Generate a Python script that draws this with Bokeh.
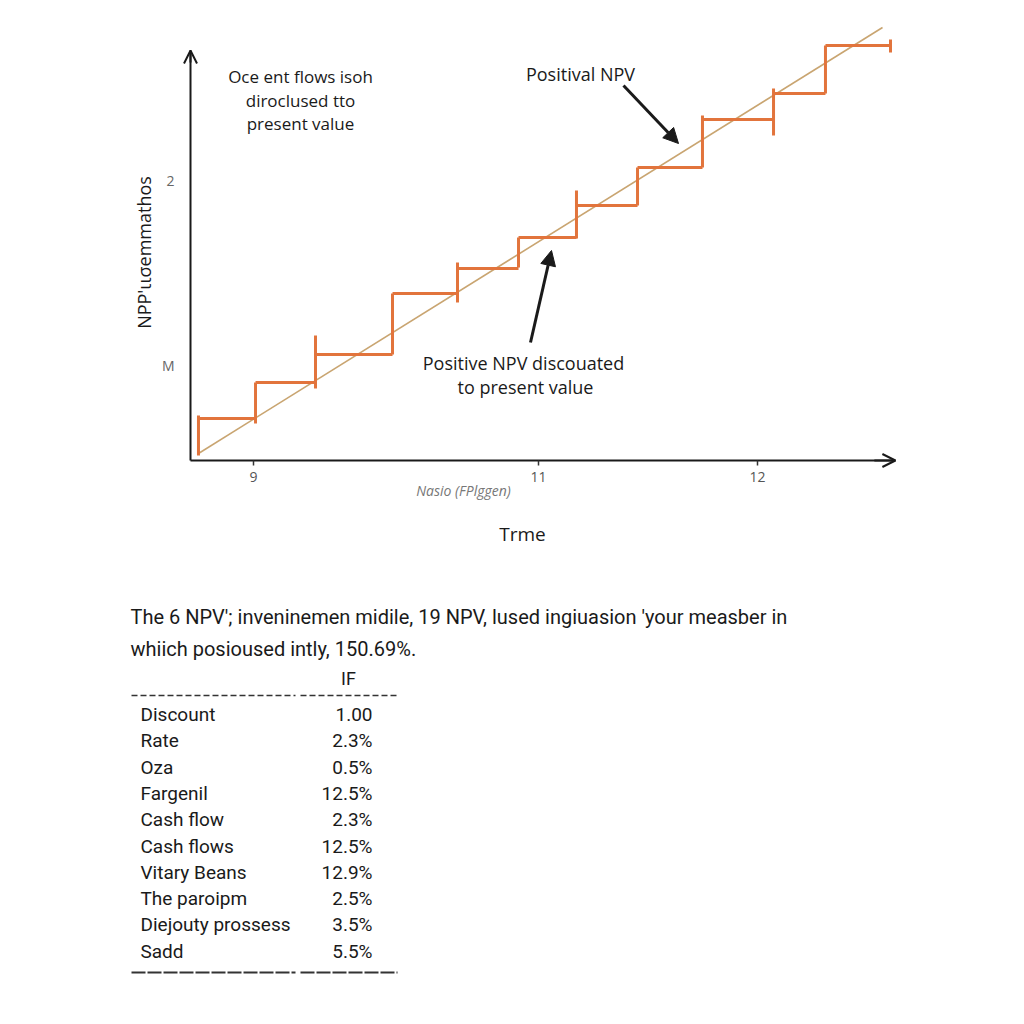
import math
from bokeh.plotting import figure
from bokeh.models import Range1d, FixedTicker, Arrow, NormalHead, OpenHead, Label, ColumnDataSource
from bokeh.embed import file_html
from bokeh.resources import INLINE
from bokeh.core.properties import value

# ---------------- data ----------------
# step (cash-flow staircase): x position of each riser and level of each tread
step_x = [0.114, 0.929, 1.786, 2.886, 3.814, 4.686, 5.514, 6.386, 7.314, 8.329, 9.071, 10.0]
step_level = [1.05, 1.95, 2.65, 4.175, 4.8, 5.575, 6.375, 7.325, 8.525, 9.175, 10.375]
# vertical extent of each riser
riser_low = [0.125, 0.925, 1.8, 2.65, 3.95, 4.825, 5.55, 6.375, 7.325, 8.125, 9.175, 10.2]
riser_high = [1.125, 1.95, 3.125, 4.175, 4.95, 5.575, 6.75, 7.325, 8.625, 9.3, 10.375, 10.525]
# straight-line trend
trend_x = [0.114, 9.886]
trend_y = [0.175, 10.825]

x_tick_pos = [0.9, 4.971, 8.1]
x_tick_labels = ["9", "11", "12"]
y_tick_pos = [2.375, 7.0]
y_tick_labels = ["M", "2"]

x_axis_end = 10.07
y_axis_end = 10.25

paragraph = [
    "The 6 NPV'; inveninemen midile, 19 NPV, lused ingiuasion 'your measber in",
    "whiich posioused intly, 150.69%.",
]
table_header = "IF"
table_labels = ["Discount", "Rate", "Oza", "Fargenil", "Cash flow", "Cash flows",
                "Vitary Beans", "The paroipm", "Diejouty prossess", "Sadd"]
table_values = ["1.00", "2.3%", "0.5%", "12.5%", "2.3%", "12.5%", "12.9%", "2.5%", "3.5%", "5.5%"]

ORANGE = "#E2743C"
TREND = "#C9A571"
INK = "#1a1a1a"
FONT = "Open Sans"
TFONT = "Roboto"

# page layout: chart origin and scale (pixels per unit)
OX, OY, SX, SY = 190, 460, 70.0, 40.0
W = H = 1024

def X(px):
    return (px - OX) / SX

def Y(py):
    return (OY - py) / SY

# ---------------- figure ----------------
p = figure(width=W, height=H, x_range=Range1d(X(0), X(W)), y_range=Range1d(Y(H), Y(0)),
           output_backend="svg", toolbar_location=None, min_border=0)
p.grid.visible = False
p.outline_line_color = None

# axes (placed at the origin inside the frame)
p.xaxis.fixed_location = 0
p.xaxis.ticker = FixedTicker(ticks=x_tick_pos)
p.xaxis.major_label_overrides = {t: l for t, l in zip(x_tick_pos, x_tick_labels)}
p.xaxis.bounds = (0, x_axis_end)
p.xaxis.axis_line_width = 2
p.xaxis.axis_line_color = INK
p.xaxis.major_tick_out = 5
p.xaxis.major_tick_in = 0
p.xaxis.major_tick_line_color = "#333333"
p.xaxis.major_tick_line_width = 1.5
p.xaxis.minor_tick_line_color = None
p.xaxis.major_label_standoff = 6
p.xaxis.major_label_text_font = FONT
p.xaxis.major_label_text_font_size = "14px"
p.xaxis.major_label_text_color = "#555555"

p.yaxis.fixed_location = 0
p.yaxis.ticker = FixedTicker(ticks=y_tick_pos)
p.yaxis.major_label_overrides = {t: l for t, l in zip(y_tick_pos, y_tick_labels)}
p.yaxis.bounds = (0, y_axis_end)
p.yaxis.axis_line_width = 2
p.yaxis.axis_line_color = INK
p.yaxis.major_tick_line_color = None
p.yaxis.minor_tick_line_color = None
p.yaxis.major_label_standoff = 10
p.yaxis.major_label_text_font = FONT
p.yaxis.major_label_text_font_size = "14px"
p.yaxis.major_label_text_color = "#666666"

# axis arrowheads
p.add_layout(Arrow(end=OpenHead(size=13, line_width=2, line_color=INK),
                   x_start=0, y_start=y_axis_end - 0.3, x_end=0, y_end=y_axis_end,
                   line_width=2, line_color=INK))
p.add_layout(Arrow(end=OpenHead(size=13, line_width=2, line_color=INK),
                   x_start=x_axis_end - 0.3, y_start=0, x_end=x_axis_end, y_end=0,
                   line_width=2, line_color=INK))

# trend line
p.line(trend_x, trend_y, line_color=TREND, line_width=1.6)

# staircase
tread = ColumnDataSource(dict(x0=step_x[:-1], x1=step_x[1:], y=step_level))
p.segment(x0="x0", y0="y", x1="x1", y1="y", source=tread, line_color=ORANGE, line_width=3)
riser = ColumnDataSource(dict(x=step_x, lo=riser_low, hi=riser_high))
p.segment(x0="x", y0="lo", x1="x", y1="hi", source=riser, line_color=ORANGE, line_width=3)

# annotation arrows
p.add_layout(Arrow(end=NormalHead(size=15, fill_color=INK, line_color=INK),
                   x_start=X(623), y_start=Y(85), x_end=X(678), y_end=Y(143),
                   line_width=3, line_color=INK))
p.add_layout(Arrow(end=NormalHead(size=15, fill_color=INK, line_color=INK),
                   x_start=X(530), y_start=Y(342), x_end=X(551), y_end=Y(250),
                   line_width=3, line_color=INK))

def lab(px, py, t, size="18px", color=INK, align="center", angle=0, style="normal", font=FONT):
    p.add_layout(Label(x=X(px), y=Y(py), text=t, text_font=font, text_font_size=size,
                       text_color=color, text_align=align, text_baseline="middle",
                       angle=angle, text_font_style=style))

lab(300, 76, "Oce ent flows isoh", size="17px")
lab(300, 100, "diroclused tto", size="17px")
lab(300, 123, "present value", size="17px")
lab(580, 73, "Positival NPV")
lab(523, 362, "Positive NPV discouated")
lab(525, 386, "to present value")
lab(143, 252, "NPP'ιισemmathos", size="18px", angle=math.pi / 2)
lab(463, 490, "Nasio (FPlggen)", size="14px", color="#777777", style="italic")
lab(522, 533, "Trme", size="19px")

# ---------------- paragraph + table ----------------
para_y = [Y(616 + 32 * i) for i in range(len(paragraph))]
p.text(x=[X(130)] * len(paragraph), y=para_y, text=paragraph, text_font=value(TFONT),
       text_font_size="20px", text_color=INK, text_baseline="middle", text_align="left")

p.text(x=[X(348)], y=[Y(678)], text=[table_header], text_font=value(TFONT),
       text_font_size="18px", text_color=INK, text_baseline="middle", text_align="center")

row_y = [Y(714 + 26.3 * i) for i in range(len(table_labels))]
p.text(x=[X(140)] * len(table_labels), y=row_y, text=table_labels, text_font=value(TFONT),
       text_font_size="19px", text_color=INK, text_baseline="middle", text_align="left")
p.text(x=[X(372)] * len(table_values), y=row_y, text=table_values, text_font=value(TFONT),
       text_font_size="19px", text_color=INK, text_baseline="middle", text_align="right")

rule = ColumnDataSource(dict(x0=[X(131), X(300)], x1=[X(295), X(397)]))
p.segment(x0="x0", y0=Y(695), x1="x1", y1=Y(695), source=rule, line_color="#333333",
          line_width=1.5, line_dash="6 3")
p.segment(x0="x0", y0=Y(972), x1="x1", y1=Y(972), source=rule, line_color="#333333",
          line_width=2, line_dash="14 2")

open("out.html", "w").write(file_html(p, INLINE))
